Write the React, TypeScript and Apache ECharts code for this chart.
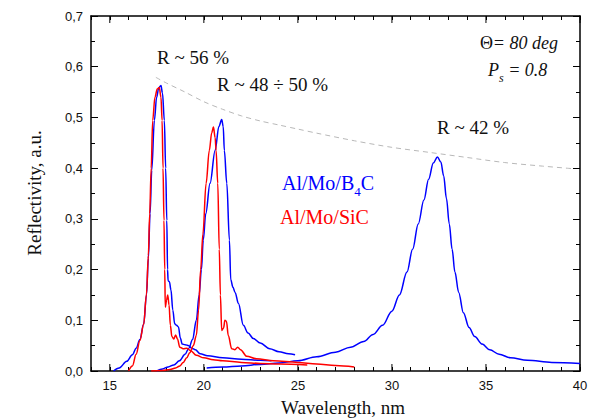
import React, { useEffect, useRef } from "react";
import * as echarts from "echarts";

// ---- data (wavelength nm, reflectivity) ----
const blueB1: [number, number][] = [
  [15.2, 0.0], [15.5, 0.006], [15.9, 0.019], [16.2, 0.032], [16.4, 0.045], [16.6, 0.062], [16.8, 0.092],
  [16.95, 0.15], [17.05, 0.222], [17.14, 0.31], [17.23, 0.396], [17.37, 0.494], [17.49, 0.54], [17.6, 0.558],
  [17.72, 0.563], [17.8, 0.548], [17.9, 0.494], [17.97, 0.4], [18.03, 0.297], [18.07, 0.2], [18.1, 0.178],
  [18.17, 0.176], [18.25, 0.16], [18.35, 0.12], [18.45, 0.093], [18.55, 0.09], [18.65, 0.087], [18.75, 0.065],
  [18.85, 0.053], [19.0, 0.052], [19.2, 0.05], [19.35, 0.045], [19.55, 0.042], [19.8, 0.034], [20.2, 0.03],
  [21.0, 0.026], [22.0, 0.023], [23.0, 0.021], [23.6, 0.02],
];
const blueB2: [number, number][] = [
  [17.5, 0.0], [17.8, 0.004], [18.1, 0.008], [18.4, 0.012], [18.7, 0.02], [19.0, 0.033], [19.2, 0.045],
  [19.4, 0.062], [19.6, 0.1], [19.75, 0.15], [19.87, 0.2], [19.97, 0.258], [20.1, 0.31], [20.33, 0.37],
  [20.6, 0.435], [20.8, 0.482], [20.95, 0.496], [21.03, 0.482], [21.09, 0.435], [21.22, 0.37], [21.36, 0.258],
  [21.43, 0.18], [21.55, 0.165], [21.66, 0.155], [21.84, 0.133], [22.1, 0.09], [22.35, 0.075], [22.63, 0.064],
  [23.0, 0.055], [23.5, 0.044], [24.0, 0.038], [24.5, 0.034], [24.85, 0.032],
];
const blueB3: [number, number][] = [
  [20.15, 0.006], [21.0, 0.008], [22.0, 0.01], [23.0, 0.013], [24.0, 0.016], [25.0, 0.02], [26.0, 0.028],
  [27.0, 0.037], [27.8, 0.047], [28.5, 0.058], [29.0, 0.072], [29.5, 0.09], [30.0, 0.118], [30.4, 0.15],
  [30.8, 0.195], [31.1, 0.24], [31.4, 0.29], [31.7, 0.337], [31.95, 0.378], [32.2, 0.41], [32.42, 0.422],
  [32.6, 0.412], [32.75, 0.385], [32.9, 0.34], [33.05, 0.29], [33.2, 0.24], [33.35, 0.195], [33.55, 0.155],
  [33.8, 0.115], [34.1, 0.086], [34.4, 0.068], [34.8, 0.053], [35.2, 0.042], [35.7, 0.033], [36.3, 0.026],
  [37.2, 0.021], [38.5, 0.017], [40.0, 0.015],
];
const redR1: [number, number][] = [
  [16.0, 0.0], [16.2, 0.01], [16.4, 0.033], [16.6, 0.06], [16.8, 0.092], [16.95, 0.152], [17.05, 0.228],
  [17.12, 0.31], [17.2, 0.4], [17.28, 0.494], [17.4, 0.54], [17.52, 0.556], [17.63, 0.559], [17.72, 0.54],
  [17.78, 0.494], [17.83, 0.4], [17.88, 0.297], [17.92, 0.2], [17.95, 0.126], [18.02, 0.14], [18.08, 0.15],
  [18.15, 0.13], [18.22, 0.09], [18.3, 0.068], [18.4, 0.063], [18.5, 0.071], [18.6, 0.063], [18.72, 0.047],
  [18.9, 0.044], [19.1, 0.045], [19.3, 0.04], [19.6, 0.031], [20.0, 0.026], [20.5, 0.022], [21.0, 0.02],
  [22.0, 0.017], [23.0, 0.015], [24.0, 0.014], [25.5, 0.012],
];
const redR2: [number, number][] = [
  [17.2, 0.0], [17.8, 0.001], [18.2, 0.003], [18.5, 0.006], [18.73, 0.01], [18.9, 0.017], [19.09, 0.026],
  [19.25, 0.036], [19.44, 0.05], [19.6, 0.07], [19.72, 0.12], [19.83, 0.2], [19.95, 0.27], [20.12, 0.37],
  [20.29, 0.435], [20.42, 0.47], [20.51, 0.481], [20.6, 0.46], [20.65, 0.435], [20.74, 0.37], [20.82, 0.24],
  [20.88, 0.15], [20.95, 0.08], [21.05, 0.085], [21.12, 0.1], [21.2, 0.098], [21.3, 0.07], [21.48, 0.044],
  [21.65, 0.042], [21.8, 0.047], [21.95, 0.042], [22.28, 0.029], [22.8, 0.024], [23.7, 0.02], [25.0, 0.017],
  [26.0, 0.014], [27.0, 0.011], [28.0, 0.008],
];
const envelope: [number, number][] = [
  [17.45, 0.579], [18.0, 0.568], [19.0, 0.55], [20.0, 0.531], [21.0, 0.516], [22.0, 0.503], [23.0, 0.493],
  [24.0, 0.485], [25.0, 0.477], [26.0, 0.469], [28.0, 0.454], [30.0, 0.441], [32.0, 0.431], [34.0, 0.421],
  [36.0, 0.411], [38.0, 0.404], [39.6, 0.399],
];
const majorXTicks = [15, 20, 25, 30, 35, 40];

const SERIF = "Liberation Serif";
const SANS = "Liberation Sans";

export default function App() {
  const ref = useRef<HTMLDivElement>(null);
  useEffect(() => {
    if (!ref.current) return;
    const chart = echarts.init(ref.current, undefined, { renderer: "svg" });
    const lineSeries = (data: [number, number][], color: string) => ({
      type: "line",
      data,
      showSymbol: false,
      symbol: "none",
      smooth: 0.35,
      smoothMonotone: "x",
      lineStyle: { color, width: 1.5 },
      silent: true,
    });
    const xCommon = {
      type: "value",
      min: 14,
      max: 40,
      interval: 1,
      splitLine: { show: false },
      axisLine: { show: true, onZero: false, lineStyle: { color: "#000", width: 1.5 } },
      axisTick: { show: true, inside: true, length: 4, lineStyle: { color: "#000", width: 1 } },
    };
    const yCommon = {
      type: "value",
      min: 0,
      max: 0.7,
      interval: 0.1,
      splitLine: { show: false },
      axisLine: { show: true, onZero: false, lineStyle: { color: "#000", width: 1.5 } },
      axisTick: { show: true, inside: true, length: 7, lineStyle: { color: "#000", width: 1 } },
      minorTick: { show: true, splitNumber: 2, length: 4, lineStyle: { color: "#000", width: 1 } },
    };
    const txt = (x: number, y: number, text: string, size: number, fill: string, align = "left", rotation = 0) => ({
      type: "text",
      x,
      y,
      rotation,
      style: {
        text: `{n|${text}}`,
        fill,
        align,
        verticalAlign: "middle",
        fontFamily: SERIF,
        fontSize: size,
        rich: { n: { fontFamily: SERIF, fontSize: size } },
      },
    });
    chart.setOption({
      animation: false,
      backgroundColor: "#fff",
      grid: { left: 91, top: 16, width: 489, height: 355, containLabel: false },
      xAxis: [
        {
          ...xCommon,
          position: "bottom",
          axisLabel: {
            color: "#111",
            fontFamily: SANS,
            fontSize: 13,
            margin: 8,
            formatter: (v: number) => (Math.abs(v % 5) < 1e-6 ? String(v) : ""),
          },
        },
        { ...xCommon, position: "top", axisLabel: { show: false } },
      ],
      yAxis: [
        {
          ...yCommon,
          position: "left",
          axisLabel: {
            color: "#111",
            fontFamily: SANS,
            fontSize: 13,
            margin: 8,
            formatter: (v: number) => v.toFixed(1).replace(".", ","),
          },
        },
        { ...yCommon, position: "right", axisLabel: { show: false } },
      ],
      series: [
        {
          type: "line",
          data: envelope,
          showSymbol: false,
          symbol: "none",
          smooth: 0.3,
          lineStyle: { color: "#b8b8b8", width: 1, type: [5, 4] },
          silent: true,
        },
        lineSeries(blueB3, "#0000ff"),
        lineSeries(blueB1, "#0000ff"),
        lineSeries(blueB2, "#0000ff"),
        lineSeries(redR2, "#ff0000"),
        lineSeries(redR1, "#ff0000"),
        {
          type: "custom",
          silent: true,
          data: majorXTicks.map((v) => [v, 0]),
          renderItem: (_p: any, api: any) => {
            const x = api.value(0);
            const b = api.coord([x, 0]);
            const t = api.coord([x, 0.7]);
            return {
              type: "group",
              children: [
                { type: "line", shape: { x1: b[0], y1: b[1], x2: b[0], y2: b[1] - 7 }, style: { stroke: "#000", lineWidth: 1 } },
                { type: "line", shape: { x1: t[0], y1: t[1], x2: t[0], y2: t[1] + 7 }, style: { stroke: "#000", lineWidth: 1 } },
              ],
            };
          },
        },
      ],
      graphic: [
        txt(157, 57, "R ~ 56 %", 19, "#111"),
        txt(217, 84, "R ~ 48 ÷ 50 %", 19, "#111"),
        txt(437, 127, "R ~ 42 %", 19, "#111"),
        {
          type: "text",
          x: 558,
          y: 43,
          style: {
            text: "{n|Θ}{it|= 80 deg}",
            align: "right",
            verticalAlign: "middle",
            fill: "#111",
            fontFamily: SERIF,
            fontSize: 18,
            rich: {
              n: { fontFamily: SERIF, fontSize: 18 },
              it: { fontFamily: SERIF, fontSize: 18, fontStyle: "italic" },
            },
          },
        },
        {
          type: "text",
          x: 488,
          y: 61,
          style: {
            text: "{n|P}{sub|s}{n| = 0.8}",
            align: "left",
            verticalAlign: "top",
            fill: "#111",
            fontFamily: SERIF,
            fontSize: 18,
            fontStyle: "italic",
            rich: {
              n: { fontFamily: SERIF, fontSize: 18, fontStyle: "italic", lineHeight: 20, verticalAlign: "top" },
              sub: { fontFamily: SERIF, fontSize: 12, fontStyle: "italic", lineHeight: 23, verticalAlign: "bottom" },
            },
          },
        },
        {
          type: "text",
          x: 282,
          y: 173,
          style: {
            text: "{n|Al/Mo/B}{sub|4}{n|C}",
            align: "left",
            verticalAlign: "top",
            fill: "#0000ff",
            fontFamily: SERIF,
            fontSize: 20,
            rich: {
              n: { fontFamily: SERIF, fontSize: 20, lineHeight: 22, verticalAlign: "top" },
              sub: { fontFamily: SERIF, fontSize: 13, lineHeight: 25, verticalAlign: "bottom" },
            },
          },
        },
        txt(280, 217, "Al/Mo/SiC", 20, "#ff0000"),
        txt(343, 407, "Wavelength, nm", 19, "#111", "center"),
        txt(34, 193, "Reflectivity, a.u.", 19, "#111", "center", Math.PI / 2),
      ],
    });
    return () => chart.dispose();
  }, []);
  return (
    <div
      ref={ref}
      style={{ position: "fixed", left: 0, top: 0, width: 592, height: 420, background: "#fff" }}
    />
  );
}
